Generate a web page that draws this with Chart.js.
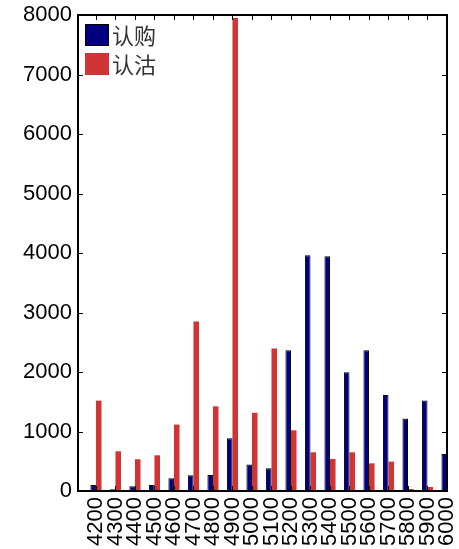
<!DOCTYPE html>
<html>
<head>
<meta charset="utf-8">
<script src="https://cdn.jsdelivr.net/npm/chart.js@4.4.1/dist/chart.umd.min.js"></script>
<style>
  body { margin: 0; background: #fff; }
  canvas { display: block; }
</style>
</head>
<body>
<canvas id="chart" width="459" height="549"></canvas>
<script>
const strikes = [4200, 4300, 4400, 4500, 4600, 4700, 4800, 4900, 5000, 5100,
                 5200, 5300, 5400, 5500, 5600, 5700, 5800, 5900, 6000];
const callVolume = [100, 30, 80, 100, 213, 264, 270, 886, 447, 381,
                    2365, 3961, 3944, 1995, 2365, 1614, 1217, 1519, 622];
const putVolume = [1519, 667, 533, 600, 1116, 2850, 1423, 7950, 1314, 2393,
                   1020, 650, 538, 650, 465, 494, 34, 67, 20];
const yTicks = [0, 1000, 2000, 3000, 4000, 5000, 6000, 7000, 8000];
const seriesNames = ['认购', '认沽'];

const BLUE = '#000080';
const RED = '#d03535';
const tickFont = { family: '"Liberation Sans", Arial, sans-serif', size: 22 };

// matlab-like box with inward ticks + legend inside the plot
const framePlugin = {
    id: 'frame',
    afterDatasetsDraw(chart) {
        const { ctx, chartArea: a, scales } = chart;
        ctx.save();
        ctx.strokeStyle = '#000';
        ctx.lineWidth = 2;
        ctx.strokeRect(a.left, a.top, a.right - a.left, a.bottom - a.top);
        ctx.lineWidth = 1;
        ctx.beginPath();
        strikes.forEach(v => {
            const x = Math.round(scales.x.getPixelForValue(v)) + 0.5;
            ctx.moveTo(x, a.top); ctx.lineTo(x, a.top + 5);
            ctx.moveTo(x, a.bottom); ctx.lineTo(x, a.bottom - 5);
        });
        yTicks.forEach(v => {
            const y = Math.round(scales.y.getPixelForValue(v)) + 0.5;
            ctx.moveTo(a.left, y); ctx.lineTo(a.left + 5, y);
            ctx.moveTo(a.right, y); ctx.lineTo(a.right - 5, y);
        });
        ctx.stroke();

        // legend
        const colors = [BLUE, RED];
        ctx.font = '22px "Noto Sans CJK SC", sans-serif';
        ctx.textBaseline = 'middle';
        seriesNames.forEach((name, i) => {
            const x = a.left + 7, y = a.top + 9 + i * 29;
            ctx.fillStyle = colors[i];
            ctx.fillRect(x, y, 24, 22);
            if (i === 0) {
                ctx.strokeStyle = '#000';
                ctx.strokeRect(x + 0.5, y + 0.5, 23, 21);
            }
            ctx.fillStyle = '#333';
            ctx.fillText(name, x + 27, y + 12);
        });
        ctx.restore();
    }
};

new Chart(document.getElementById('chart'), {
    type: 'bar',
    data: {
        datasets: [
            {
                label: seriesNames[0],
                data: strikes.map((s, i) => ({ x: s, y: callVolume[i] })),
                backgroundColor: BLUE,
                borderColor: '#000',
                borderWidth: 1
            },
            {
                label: seriesNames[1],
                data: strikes.map((s, i) => ({ x: s, y: putVolume[i] })),
                backgroundColor: RED,
                borderWidth: 0
            }
        ]
    },
    options: {
        responsive: false,
        animation: false,
        barPercentage: 1,
        categoryPercentage: 0.57,
        layout: { padding: { top: 15, right: 12, left: 0, bottom: 0 } },
        scales: {
            x: {
                type: 'linear',
                offset: false,
                min: 4108,
                max: 6000,
                afterBuildTicks: s => { s.ticks = strikes.map(v => ({ value: v })); },
                afterFit: s => { s.height = 58; s.paddingLeft = 0; s.paddingRight = 0; },
                grid: { display: false, drawTicks: false },
                border: { display: false },
                ticks: {
                    color: '#000',
                    font: tickFont,
                    padding: 6,
                    minRotation: 90,
                    maxRotation: 90,
                    autoSkip: false,
                    callback: v => String(v)
                }
            },
            y: {
                min: 0,
                max: 8000,
                afterBuildTicks: s => { s.ticks = yTicks.map(v => ({ value: v })); },
                afterFit: s => { s.width = 78; s.paddingTop = 0; s.paddingBottom = 0; },
                grid: { display: false, drawTicks: false },
                border: { display: false },
                ticks: { color: '#000', font: tickFont, padding: 6, callback: v => String(v) }
            }
        },
        plugins: {
            legend: { display: false },
            tooltip: { enabled: false }
        }
    },
    plugins: [framePlugin]
});
</script>
</body>
</html>
